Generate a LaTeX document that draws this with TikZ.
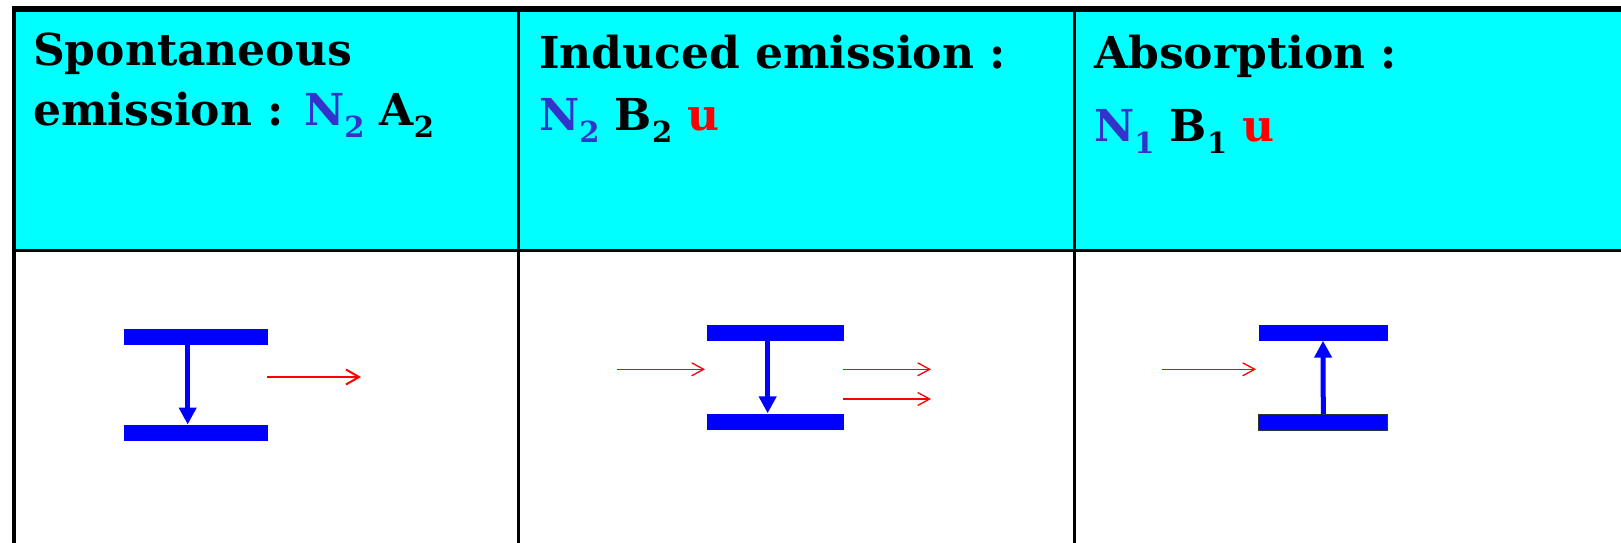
\documentclass[tikz,border=0pt]{standalone}
\usepackage{fontspec}
\setmainfont{DejaVu Serif}
\usetikzlibrary{arrows.meta}
\definecolor{headcyan}{RGB}{0,255,255}
\definecolor{levelblue}{RGB}{0,0,255}
\definecolor{popblue}{RGB}{51,51,204}
\definecolor{photonred}{RGB}{255,0,0}
\newcommand{\idx}[1]{\raisebox{-12pt}{\fontsize{29}{29}\selectfont #1}}
\newcommand{\pop}[1]{\textcolor{popblue}{N\idx{#1}}}
\newcommand{\dens}{\textcolor{photonred}{u}}

\begin{document}
\begin{tikzpicture}[x=1pt, y=-1pt,
    every node/.style={font=\fontsize{44}{53}\selectfont\bfseries},
    headtext/.style={anchor=base west, inner sep=0pt},
    lvlbar/.style={fill=levelblue, inner sep=0pt, minimum height=16pt, anchor=north west},
    trans/.style={levelblue, line width=5pt, -{Triangle[length=17pt, width=17pt]}},
    photon/.style={photonred, line width=1.3pt, -{Straight Barb[length=12pt, width=13pt]}},
    gridline/.style={black, line width=3pt}]
  \useasboundingbox (0,0) rectangle (1621,543);
  % table
  \fill[headcyan] (14,9) rectangle (1621,250);
  \draw[black, line width=6pt] (12,9) -- (1621,9);
  \draw[black, line width=4pt] (14,6) -- (14,543);
  \draw[gridline] (14,250) -- (1621,250);
  \draw[gridline] (518.5,9) -- (518.5,543);
  \draw[gridline] (1074.5,9) -- (1074.5,543);
  % headers
  \node[headtext] (spon1) at (33,66) {Spontaneous};
  \node[headtext] (spon2) at (33,125) {emission : \pop{2} A\idx{2}};
  \node[headtext] (ind1) at (539,68) {Induced emission :};
  \node[headtext] (ind2) at (539,130) {\pop{2} B\idx{2} \dens};
  \node[headtext] (abs1) at (1094,68) {Absorption :};
  \node[headtext] (abs2) at (1094,141) {\pop{1} B\idx{1} \dens};
  % spontaneous emission
  \node[lvlbar, minimum width=144pt] (up1) at (123.5,329) {};
  \node[lvlbar, minimum width=144pt] (low1) at (123.5,424.5) {};
  \draw[trans] ([xshift=-8pt]up1.south) -- ([xshift=-8pt]low1.north);
  \coordinate (out1a) at (266.7,377);
  \coordinate (out1b) at (361,377);
  \draw[photon, line width=2pt, -{Straight Barb[length=13pt, width=15pt]}] (out1a) -- (out1b);
  % induced emission
  \node[lvlbar, minimum width=137.5pt] (up2) at (706.7,324.3) {};
  \node[lvlbar, minimum width=137.5pt] (low2) at (706.7,413.3) {};
  \draw[trans] ([xshift=-8pt]up2.south) -- ([xshift=-8pt]low2.north);
  \coordinate (in2a) at (616.7,369.3);
  \coordinate (in2b) at (705,369.3);
  \coordinate (out2a) at (843.3,369.3);
  \coordinate (out2b) at (931,369.3);
  \coordinate (out2c) at (843.3,399);
  \coordinate (out2d) at (931,399);
  \draw[photon] (in2a) -- (in2b);
  \draw[photon] (out2a) -- (out2b);
  \draw[photon] (out2c) -- (out2d);
  % absorption
  \node[lvlbar, minimum width=129pt] (up3) at (1258.3,324.3) {};
  \node[lvlbar, minimum width=129pt, draw=black!80, line width=1pt] (low3) at (1258.3,414) {};
  \draw[trans] (low3.north) -- (up3.south);
  \coordinate (in3a) at (1162.3,369.3);
  \coordinate (in3b) at (1256,369.3);
  \draw[photon] (in3a) -- (in3b);
\end{tikzpicture}
\end{document}
